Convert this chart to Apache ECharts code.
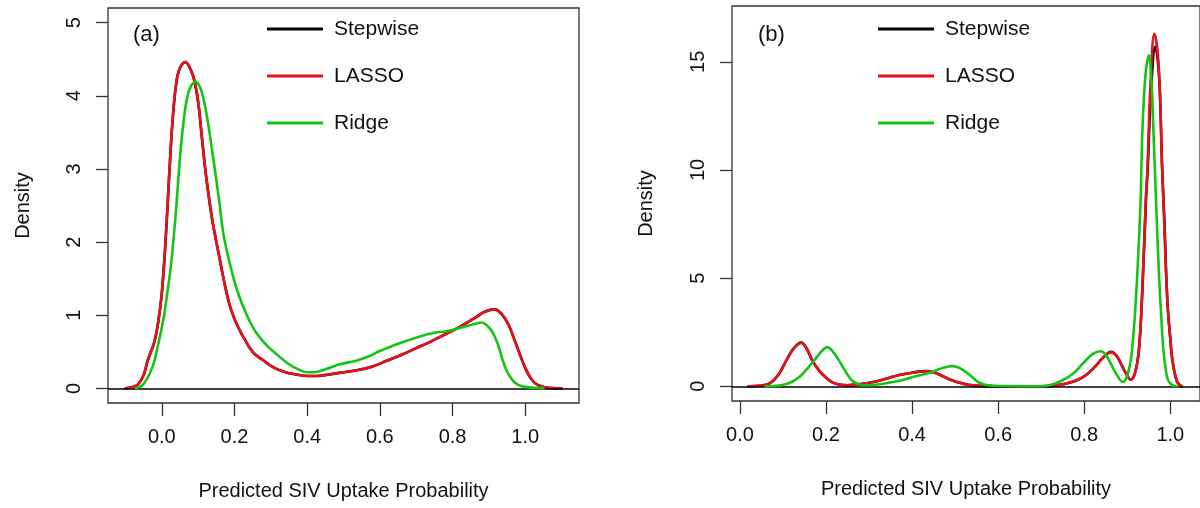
<!DOCTYPE html>
<html>
<head>
<meta charset="utf-8">
<title>Density of predicted SIV uptake probability</title>
<script src="https://cdn.jsdelivr.net/npm/echarts@6/dist/echarts.min.js"></script>
<style>
  html, body { margin: 0; padding: 0; background: #fff; }
  #chart { width: 1200px; height: 508px; }
</style>
</head>
<body>
<div id="chart"></div>
<script>
// Series names and panel labels
const seriesNames = ['Stepwise', 'LASSO', 'Ridge'];
const panelLabels = ['(a)', '(b)'];
const xTitle = 'Predicted SIV Uptake Probability';
const yTitle = 'Density';

// Tick labels
const xTicks = [0.0, 0.2, 0.4, 0.6, 0.8, 1.0];
const yTicksA = [0, 1, 2, 3, 4, 5];
const yTicksB = [0, 5, 10, 15];

// Panel (a): kernel density estimates, [probability, density]
const stepwiseA = [
  [-0.10, 0], [-0.08, 0.02], [-0.066, 0.05], [-0.05, 0.18], [-0.04, 0.36], [-0.03, 0.5],
  [-0.02, 0.64], [-0.01, 0.9], [0.0, 1.3], [0.01, 1.98], [0.02, 2.88], [0.03, 3.68],
  [0.04, 4.18], [0.05, 4.38], [0.065, 4.46], [0.08, 4.35], [0.09, 4.2], [0.10, 3.92],
  [0.11, 3.45], [0.12, 2.98], [0.13, 2.6], [0.14, 2.27], [0.155, 1.88], [0.17, 1.5],
  [0.185, 1.17], [0.20, 0.95], [0.22, 0.74], [0.25, 0.5], [0.28, 0.38], [0.31, 0.28],
  [0.34, 0.22], [0.37, 0.19], [0.40, 0.17], [0.43, 0.17], [0.46, 0.19], [0.50, 0.22],
  [0.54, 0.25], [0.58, 0.30], [0.62, 0.38], [0.66, 0.46], [0.70, 0.55], [0.74, 0.64],
  [0.78, 0.74], [0.82, 0.84], [0.86, 0.96], [0.89, 1.05], [0.915, 1.08], [0.935, 1.02],
  [0.955, 0.86], [0.97, 0.67], [0.985, 0.47], [1.0, 0.28], [1.015, 0.14], [1.03, 0.06],
  [1.05, 0.02], [1.07, 0.005], [1.10, 0]
];
const lassoA = [
  [-0.10, 0], [-0.08, 0.02], [-0.066, 0.05], [-0.05, 0.18], [-0.04, 0.36], [-0.03, 0.5],
  [-0.02, 0.64], [-0.01, 0.9], [0.0, 1.3], [0.01, 1.98], [0.02, 2.88], [0.03, 3.68],
  [0.04, 4.18], [0.05, 4.38], [0.065, 4.46], [0.08, 4.35], [0.09, 4.2], [0.10, 3.92],
  [0.11, 3.45], [0.12, 2.98], [0.13, 2.6], [0.14, 2.27], [0.155, 1.88], [0.17, 1.5],
  [0.185, 1.17], [0.20, 0.95], [0.22, 0.74], [0.25, 0.5], [0.28, 0.38], [0.31, 0.28],
  [0.34, 0.22], [0.37, 0.19], [0.40, 0.17], [0.43, 0.17], [0.46, 0.19], [0.50, 0.22],
  [0.54, 0.25], [0.58, 0.30], [0.62, 0.38], [0.66, 0.46], [0.70, 0.55], [0.74, 0.64],
  [0.78, 0.74], [0.82, 0.84], [0.86, 0.96], [0.89, 1.05], [0.915, 1.08], [0.935, 1.02],
  [0.955, 0.86], [0.97, 0.67], [0.985, 0.47], [1.0, 0.28], [1.015, 0.14], [1.03, 0.06],
  [1.05, 0.02], [1.07, 0.005], [1.10, 0]
];
const ridgeA = [
  [-0.07, 0], [-0.05, 0.06], [-0.025, 0.3], [-0.01, 0.6], [0.006, 0.99], [0.015, 1.3],
  [0.025, 1.67], [0.038, 2.36], [0.05, 3.15], [0.06, 3.65], [0.07, 3.98], [0.08, 4.13],
  [0.093, 4.19], [0.105, 4.12], [0.115, 3.95], [0.125, 3.7], [0.14, 3.2], [0.157, 2.6],
  [0.17, 2.1], [0.189, 1.67], [0.21, 1.3], [0.235, 0.99], [0.26, 0.76], [0.29, 0.58],
  [0.32, 0.45], [0.35, 0.33], [0.38, 0.25], [0.40, 0.22], [0.42, 0.22], [0.45, 0.26],
  [0.49, 0.33], [0.537, 0.38], [0.57, 0.44], [0.60, 0.51], [0.65, 0.61], [0.71, 0.71],
  [0.75, 0.76], [0.783, 0.78], [0.838, 0.85], [0.86, 0.88], [0.88, 0.9], [0.895, 0.86],
  [0.91, 0.77], [0.925, 0.6], [0.937, 0.4], [0.95, 0.23], [0.964, 0.12], [0.98, 0.05],
  [1.0, 0.02], [1.05, 0]
];

// Panel (b): kernel density estimates, [probability, density]
const stepwiseB = [
  [0.02, 0], [0.05, 0.04], [0.07, 0.15], [0.09, 0.55], [0.108, 1.2], [0.125, 1.75],
  [0.142, 2.02], [0.155, 1.75], [0.168, 1.2], [0.185, 0.7], [0.20, 0.4], [0.215, 0.18],
  [0.23, 0.08], [0.25, 0.05], [0.28, 0.1], [0.31, 0.2], [0.34, 0.35], [0.37, 0.52],
  [0.40, 0.63], [0.43, 0.7], [0.45, 0.65], [0.467, 0.51], [0.485, 0.34], [0.506, 0.19],
  [0.53, 0.07], [0.56, 0.02], [0.60, 0], [0.70, 0], [0.73, 0.03], [0.75, 0.09],
  [0.775, 0.22], [0.797, 0.42], [0.815, 0.7], [0.828, 0.97], [0.845, 1.35], [0.862, 1.6],
  [0.875, 1.42], [0.885, 1.06], [0.897, 0.6], [0.908, 0.32], [0.918, 0.62], [0.927, 1.67],
  [0.935, 4.4], [0.943, 8.4], [0.948, 10.3], [0.955, 13.6], [0.965, 15.7], [0.974, 14.3],
  [0.981, 10.1], [0.986, 7.8], [0.993, 4.0], [1.0, 2.2], [1.005, 1.2], [1.016, 0.2],
  [1.027, 0]
];
const lassoB = [
  [0.02, 0], [0.05, 0.04], [0.07, 0.15], [0.09, 0.55], [0.108, 1.2], [0.125, 1.75],
  [0.142, 2.0], [0.155, 1.75], [0.168, 1.2], [0.185, 0.7], [0.20, 0.4], [0.215, 0.18],
  [0.23, 0.08], [0.25, 0.05], [0.28, 0.1], [0.31, 0.2], [0.34, 0.35], [0.37, 0.52],
  [0.40, 0.63], [0.43, 0.69], [0.45, 0.64], [0.467, 0.51], [0.485, 0.34], [0.506, 0.19],
  [0.53, 0.07], [0.56, 0.02], [0.60, 0], [0.70, 0], [0.73, 0.03], [0.75, 0.09],
  [0.775, 0.22], [0.797, 0.42], [0.815, 0.7], [0.828, 0.97], [0.845, 1.35], [0.862, 1.57],
  [0.875, 1.4], [0.885, 1.06], [0.897, 0.6], [0.908, 0.3], [0.918, 0.6], [0.927, 1.67],
  [0.935, 4.5], [0.943, 8.6], [0.947, 10.1], [0.954, 14.0], [0.963, 16.3], [0.973, 14.8],
  [0.981, 10.1], [0.985, 8.0], [0.993, 4.0], [1.0, 2.2], [1.005, 1.2], [1.016, 0.2],
  [1.027, 0]
];
const ridgeB = [
  [0.06, 0], [0.09, 0.03], [0.115, 0.15], [0.138, 0.43], [0.158, 0.85], [0.176, 1.28],
  [0.19, 1.62], [0.203, 1.81], [0.216, 1.6], [0.23, 1.2], [0.245, 0.7], [0.26, 0.28],
  [0.275, 0.1], [0.29, 0.05], [0.32, 0.08], [0.35, 0.18], [0.368, 0.24], [0.40, 0.42],
  [0.444, 0.65], [0.47, 0.84], [0.494, 0.93], [0.51, 0.85], [0.529, 0.6], [0.545, 0.33],
  [0.559, 0.14], [0.575, 0.05], [0.60, 0.01], [0.70, 0], [0.72, 0.05], [0.75, 0.28],
  [0.775, 0.6], [0.797, 1.06], [0.82, 1.5], [0.839, 1.62], [0.853, 1.35], [0.866, 0.88],
  [0.878, 0.45], [0.89, 0.2], [0.90, 0.5], [0.908, 1.2], [0.914, 2.3], [0.92, 4.0],
  [0.926, 6.3], [0.931, 8.6], [0.935, 11.7], [0.942, 14.3], [0.95, 15.3], [0.956, 14.2],
  [0.961, 11.7], [0.967, 8.5], [0.973, 5.5], [0.979, 3.2], [0.984, 1.67], [0.99, 0.7],
  [0.995, 0.28], [1.005, 0.04], [1.015, 0]
];

const colors = ['#000000', '#e8101a', '#14c414'];
const FONT = '"Liberation Sans", Arial, Helvetica, sans-serif';
const INK = '#111111';
const FRAME = '#333333';

const chart = echarts.init(document.getElementById('chart'), null, { renderer: 'canvas' });

function xAxisFor(gridIndex, min, max) {
  return {
    type: 'value', gridIndex, min, max, position: 'bottom',
    name: xTitle, nameLocation: 'middle', nameGap: 78,
    nameTextStyle: { fontFamily: FONT, fontSize: 20, color: INK },
    axisLine: { show: false, onZero: false },
    splitLine: { show: false },
    axisTick: { show: true, inside: false, length: 13, customValues: xTicks,
                lineStyle: { color: FRAME, width: 1.3 } },
    axisLabel: { show: true, margin: 24, customValues: xTicks,
                 formatter: v => v.toFixed(1),
                 fontFamily: FONT, fontSize: 20, color: INK }
  };
}

function yAxisFor(gridIndex, min, max, ticks, gap) {
  return {
    type: 'value', gridIndex, min, max, position: 'left',
    name: yTitle, nameLocation: 'middle', nameGap: gap, nameRotate: 90,
    nameTextStyle: { fontFamily: FONT, fontSize: 20, color: INK },
    axisLine: { show: false, onZero: false },
    splitLine: { show: false },
    axisTick: { show: true, inside: false, length: 12, customValues: ticks,
                lineStyle: { color: FRAME, width: 1.3 } },
    axisLabel: { show: true, margin: 24, rotate: 90, customValues: ticks,
                 fontFamily: FONT, fontSize: 20, color: INK }
  };
}

function densitySeries(name, data, idx, colorIdx, withZeroLine) {
  const s = {
    name, type: 'line', data,
    xAxisIndex: idx, yAxisIndex: idx,
    showSymbol: false, symbol: 'none',
    smooth: 0.4,
    color: colors[colorIdx],
    lineStyle: { color: colors[colorIdx], width: 2.6, join: 'round', cap: 'round' },
    z: 3 + colorIdx
  };
  if (withZeroLine) {
    s.markLine = {
      silent: true, symbol: 'none', label: { show: false },
      lineStyle: { color: '#000', width: 1.7, type: 'solid' },
      data: [{ yAxis: 0 }]
    };
  }
  return s;
}

function legendFor(left) {
  return {
    left, top: 12, orient: 'vertical',
    data: seriesNames,
    icon: 'rect', itemWidth: 56, itemHeight: 3, itemGap: 23,
    selectedMode: false,
    textStyle: { fontFamily: FONT, fontSize: 21, color: INK, lineHeight: 24,
                 padding: [0, 0, 0, 6] }
  };
}

const option = {
  animation: false,
  backgroundColor: '#ffffff',
  grid: [
    { left: 108, top: 8, width: 471, height: 395, show: true,
      borderColor: FRAME, borderWidth: 1.3, backgroundColor: 'transparent' },
    { left: 732, top: 6, width: 473, height: 395, show: true,
      borderColor: FRAME, borderWidth: 1.3, backgroundColor: 'transparent' }
  ],
  xAxis: [xAxisFor(0, -0.148, 1.148), xAxisFor(1, -0.0184, 1.069)],
  yAxis: [yAxisFor(0, -0.2, 5.2, yTicksA, 75), yAxisFor(1, -0.68, 17.58, yTicksB, 76)],
  title: [
    { text: panelLabels[0], left: 128, top: 19,
      textStyle: { fontFamily: FONT, fontSize: 22, fontWeight: 'normal', color: INK } },
    { text: panelLabels[1], left: 753, top: 19,
      textStyle: { fontFamily: FONT, fontSize: 22, fontWeight: 'normal', color: INK } }
  ],
  legend: [legendFor(262), legendFor(873)],
  series: [
    densitySeries(seriesNames[0], stepwiseA, 0, 0, true),
    densitySeries(seriesNames[1], lassoA, 0, 1, false),
    densitySeries(seriesNames[2], ridgeA, 0, 2, false),
    densitySeries(seriesNames[0], stepwiseB, 1, 0, true),
    densitySeries(seriesNames[1], lassoB, 1, 1, false),
    densitySeries(seriesNames[2], ridgeB, 1, 2, false)
  ]
};

chart.setOption(option);
</script>
</body>
</html>
